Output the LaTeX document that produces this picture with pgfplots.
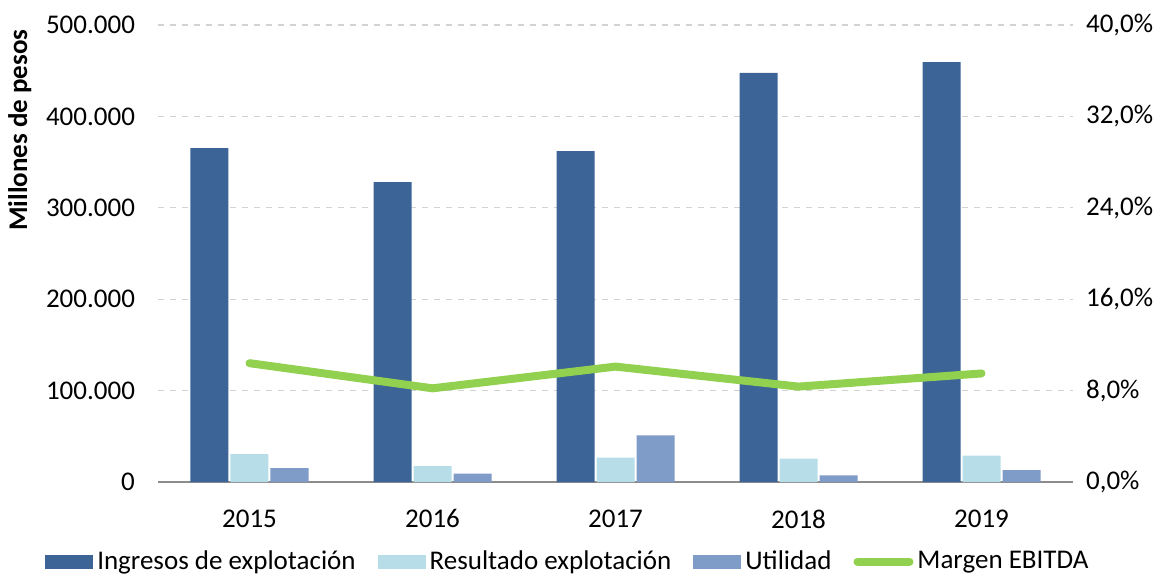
\documentclass[border=0pt]{standalone}
\usepackage{pgfplots}
\pgfplotsset{compat=1.18}
\usepackage{fontspec}
\setmainfont{Carlito}
\definecolor{ingresos}{RGB}{60,100,150}
\definecolor{resultado}{RGB}{183,222,232}
\definecolor{utilidad}{RGB}{127,155,200}
\definecolor{margen}{RGB}{146,208,80}
\begin{document}
\begin{tikzpicture}
\useasboundingbox (-79pt,-48pt) rectangle (504pt,241pt);
\pgfplotsset{
  base/.style={
    scale only axis,
    width=457.5pt, height=228.5pt,
    xmin=-0.5, xmax=4.5,
    /pgf/number format/assume math mode=true,
    tick label style={font=\fontsize{13.5}{15}\selectfont},
  },
}
\begin{axis}[
  base,
  ybar=1pt, bar width=19pt,
  ymin=0, ymax=500000,
  ytick={0,100000,...,500000},
  scaled y ticks=false,
  yticklabel style={/pgf/number format/fixed, /pgf/number format/1000 sep={.}, xshift=-8pt},
  ymajorgrids, grid style={dashed, gray!35, line width=0.6pt},
  axis x line*=bottom, axis y line*=left,
  y axis line style={draw=none},
  x axis line style={gray!90, line width=0.8pt, -},
  ytick style={draw=none},
  xtick={0,1,2,3,4},
  xticklabels={2015,2016,2017,2018,2019},
  xticklabel style={yshift=-6pt},
  major x tick style={draw=none},
  extra x ticks={-0.5,0.5,1.5,2.5,3.5,4.5},
  extra x tick labels={},
  extra x tick style={grid=none, tick align=outside, major tick length=4pt,
    tick style={gray!90, line width=0.8pt, draw}},
  ylabel={\bfseries Millones de pesos},
  ylabel style={font=\fontsize{13.5}{15}\selectfont, at={(rel axis cs:-0.151,0.77)}, anchor=center},
  legend columns=4,
  legend style={draw=none, fill=none, at={(0.449,-0.174)}, anchor=center,
    font=\fontsize{13.5}{15}\selectfont,
    /tikz/every even column/.append style={column sep=9pt}},
  legend image code/.code={\fill[#1] (0pt,-3.5pt) rectangle (24pt,3.5pt);},
]
\addplot[fill=ingresos, draw=none] coordinates {(0,365400) (1,328200) (2,362100) (3,447500) (4,459500)};
\addlegendentry{Ingresos de explotación}
\addplot[fill=resultado, draw=none] coordinates {(0,30600) (1,17500) (2,26600) (3,25500) (4,28800)};
\addlegendentry{Resultado explotación}
\addplot[fill=utilidad, draw=none] coordinates {(0,15300) (1,9100) (2,51100) (3,7300) (4,13100)};
\addlegendentry{Utilidad}
\addlegendimage{legend image code/.code={\draw[margen, line width=4pt, line cap=round] (2pt,0pt) -- (28pt,0pt);}}
\addlegendentry{Margen EBITDA}
\end{axis}
\begin{axis}[
  base,
  ymin=0, ymax=40,
  ytick={0,8,16,24,32,40},
  yticklabels={{0,0\%},{8,0\%},{16,0\%},{24,0\%},{32,0\%},{40,0\%}},
  axis x line=none, axis y line*=right,
  y axis line style={draw=none},
  ytick style={draw=none},
  yticklabel style={xshift=3pt},
]
\addplot[margen, line width=4pt, line cap=round, line join=round, mark=none] coordinates {(0,10.4) (1,8.2) (2,10.1) (3,8.35) (4,9.5)};
\end{axis}
\end{tikzpicture}
\end{document}
